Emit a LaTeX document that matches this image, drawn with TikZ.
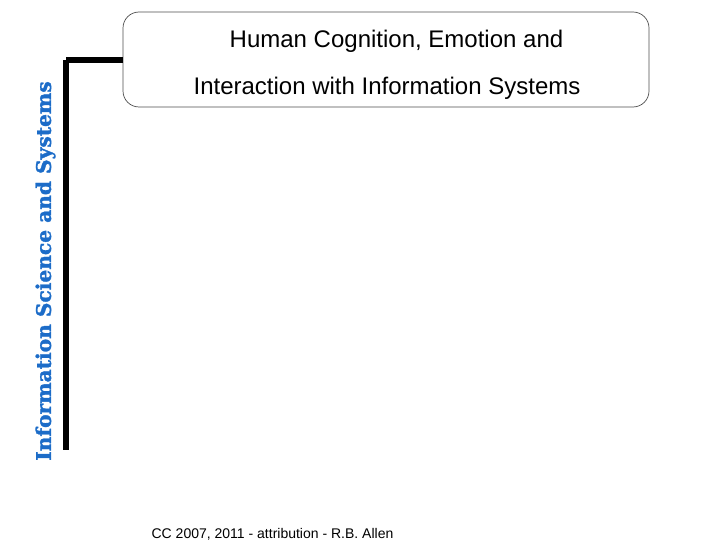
\documentclass[tikz,border=0pt]{standalone}
\usepackage{fontspec}
\setmainfont{Liberation Sans}
\newfontfamily\spinefont[BoldFeatures={FakeBold=1.5}]{DejaVu Serif}
\usetikzlibrary{positioning}
\definecolor{spineblue}{RGB}{28,108,200}
\tikzset{
  titlebox/.style={draw=black!70, line width=0.7pt, rounded corners=16pt, minimum width=526pt, minimum height=95pt},
  titleline/.style={font=\fontsize{24}{26}\selectfont, inner sep=0pt},
  spine/.style={line width=6pt, line cap=butt}
}
\begin{document}
\begin{tikzpicture}[x=1pt, y=-1pt]
\useasboundingbox (0,0) rectangle (720,540);
\node[titlebox] (box) at (386,59.5) {};
\node[titleline] (line1) at (396.5,41) {Human Cognition, Emotion and};
\node[titleline] (line2) at (387,88) {Interaction with Information Systems};
\coordinate (corner) at (66,60);
\coordinate (barend) at (66,450);
\draw[spine] (box.west |- corner) -- (corner);
\draw[spine] (corner) -- (barend);
\node[rotate=90, text=spineblue, inner sep=0pt, font=\spinefont\bfseries\fontsize{20.2}{22}\selectfont] (side) at (45.5,271) {Information Science and Systems};
\node[inner sep=0pt, font=\fontsize{14}{16}\selectfont] (foot) at (272.5,534) {CC 2007, 2011 - attribution - R.B. Allen};
\end{tikzpicture}
\end{document}
